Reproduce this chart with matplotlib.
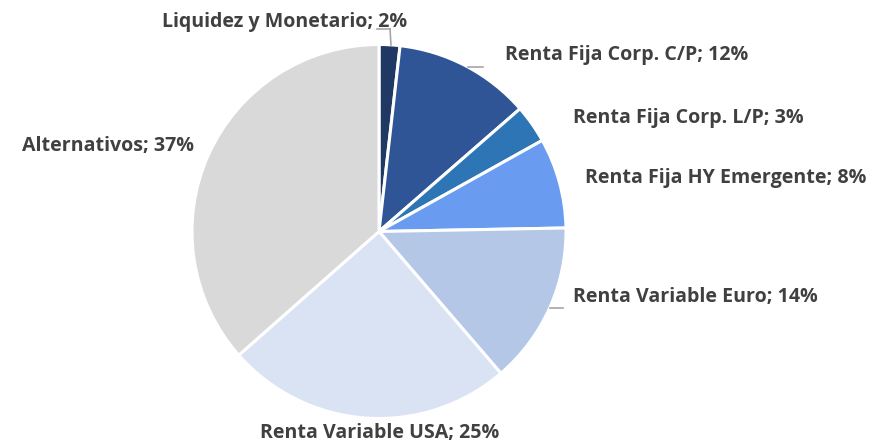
import matplotlib
matplotlib.use("Agg")
import matplotlib.pyplot as plt

categories = ["Liquidez y Monetario", "Renta Fija Corp. C/P", "Renta Fija Corp. L/P",
              "Renta Fija HY Emergente", "Renta Variable Euro", "Renta Variable USA",
              "Alternativos"]
values = [1.8, 11.8, 3.3, 7.8, 14.0, 24.8, 36.5]
pct_labels = ["2%", "12%", "3%", "8%", "14%", "25%", "37%"]
colors = ["#203864", "#2F5597", "#2E75B6", "#699BF1", "#B4C7E7", "#DAE3F3", "#D9D9D9"]

W, H = 877, 443
fig = plt.figure(figsize=(W / 100, H / 100), dpi=100)
ax = fig.add_axes([0, 0, 1, 1])

cx, cy, r = 379, H - 231.5, 187
ax.pie(values, colors=colors, startangle=90, counterclock=False,
       center=(cx, cy), radius=r, frame=True,
       wedgeprops=dict(edgecolor="white", linewidth=2.2))
ax.set_xlim(0, W)
ax.set_ylim(0, H)
ax.set_aspect("equal")
ax.axis("off")

# label positions (left x, center y in pixels from top)
pos = [(162, 22), (505, 55), (573, 118), (585, 178), (573, 297), (260, 433), (22, 146)]
font = dict(family="Open Sans", weight="bold", size=14.1, color="#404040")
for (x, y), c, p in zip(pos, categories, pct_labels):
    ax.text(x, H - y, f"{c}; {p}", ha="left", va="center", **font)

lc = "#A6A6A6"
ax.plot([390, 391], [H - 29, H - 45], color=lc, lw=1.2)
ax.plot([377, 390], [H - 29, H - 29], color=lc, lw=1.2)
ax.plot([468, 483], [H - 67, H - 67], color=lc, lw=1.2)
ax.plot([550, 563], [H - 308, H - 308], color=lc, lw=1.2)

fig.savefig("out.png", dpi=100)
